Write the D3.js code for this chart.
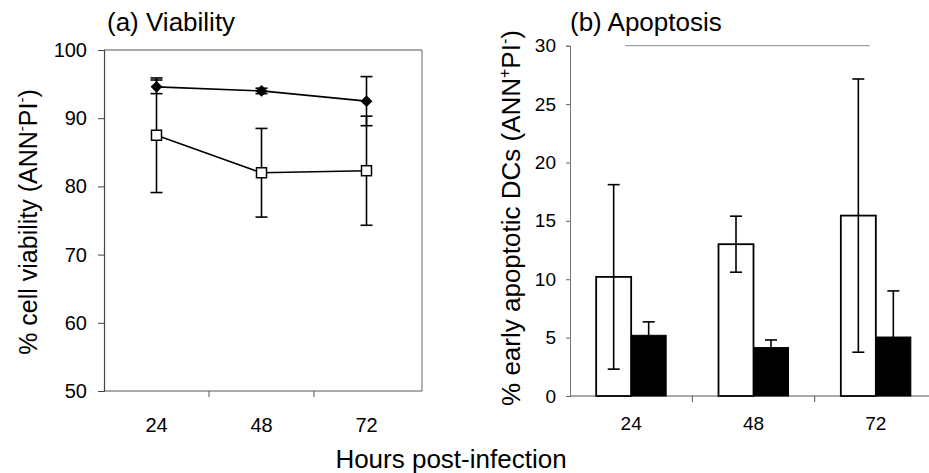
<!DOCTYPE html>
<html>
<head>
<meta charset="utf-8">
<script src="https://cdn.jsdelivr.net/npm/d3@7"></script>
<style>
  html, body { margin: 0; padding: 0; background: #fff; }
  svg { display: block; font-family: "Liberation Sans", Arial, sans-serif; }
</style>
</head>
<body>
<svg id="chart" width="929" height="473"></svg>
<script>
// Time points (hours post-infection)
const hours = ["24", "48", "72"];

// (a) Viability, % ANN-PI- cells
const viabOpen = [87.5, 82.0, 82.3];
const viabOpenErr = [8.4, 6.5, 8.0];
const viabFilled = [94.6, 94.0, 92.5];
const viabFilledErr = [1.0, 0.4, 3.6];
const viabTicks = [50, 60, 70, 80, 90, 100];

// (b) Early apoptosis, % ANN+PI- cells
const apopOpen = [10.2, 13.0, 15.45];
const apopOpenErr = [7.9, 2.4, 11.7];
const apopFilled = [5.2, 4.15, 5.05];
const apopFilledErr = [1.15, 0.65, 3.95];
const apopTicks = [0, 5, 10, 15, 20, 25, 30];

const svg = d3.select("#chart");
const ink = "#000";
const FONT = "Liberation Sans, Arial, sans-serif";

// ---------- Panel (a): line chart ----------
const ax = d3.scaleBand().domain(hours).range([104, 419]);
const ay = d3.scaleLinear().domain([50, 100]).range([391, 50]);
const ga = svg.append("g");

// frame (top and right)
ga.append("line").attr("x1", 104).attr("x2", 422).attr("y1", ay(100)).attr("y2", ay(100))
  .attr("stroke", "#555").attr("stroke-width", 1);
ga.append("line").attr("x1", 422).attr("x2", 422).attr("y1", ay(100)).attr("y2", ay(50))
  .attr("stroke", "#666").attr("stroke-width", 1);

// y axis
const yAxisA = d3.axisLeft(ay).tickValues(viabTicks).tickSize(6).tickPadding(11);
const gya = ga.append("g").attr("transform", "translate(104,0)").call(yAxisA);
gya.select(".domain").attr("stroke", "#444").attr("stroke-width", 1.2);
gya.selectAll(".tick line").attr("stroke", "#444");
gya.selectAll(".tick text").attr("font-size", 20).attr("fill", ink).attr("font-family", FONT);

// x axis (ticks between categories)
ga.append("line").attr("x1", 104).attr("x2", 422).attr("y1", ay(50)).attr("y2", ay(50))
  .attr("stroke", "#555").attr("stroke-width", 1);
ga.selectAll(".xtick").data(hours.slice(1)).enter().append("line")
  .attr("x1", d => ax(d)).attr("x2", d => ax(d))
  .attr("y1", ay(50)).attr("y2", ay(50) + 6).attr("stroke", "#555");
ga.selectAll(".xlab").data(hours).enter().append("text")
  .attr("x", d => ax(d) + ax.bandwidth() / 2).attr("y", 432)
  .attr("text-anchor", "middle").attr("font-size", 20).attr("fill", ink).text(d => d);

const cx = d => ax(d) + ax.bandwidth() / 2;

function errBars(g, vals, errs, cap) {
  g.selectAll(null).data(hours).enter().append("g").each(function (d, i) {
    const s = d3.select(this);
    const x = cx(d);
    s.append("line").attr("x1", x).attr("x2", x)
      .attr("y1", ay(vals[i] + errs[i])).attr("y2", ay(vals[i] - errs[i]))
      .attr("stroke", ink).attr("stroke-width", 1.6);
    [vals[i] + errs[i], vals[i] - errs[i]].forEach(v => {
      s.append("line").attr("x1", x - cap).attr("x2", x + cap)
        .attr("y1", ay(v)).attr("y2", ay(v)).attr("stroke", ink).attr("stroke-width", 1.6);
    });
  });
}
errBars(ga, viabOpen, viabOpenErr, 6);
errBars(ga, viabFilled, viabFilledErr, 6);

const lineA = d3.line().x((v, i) => cx(hours[i])).y(v => ay(v));
ga.append("path").datum(viabOpen).attr("d", lineA).attr("fill", "none")
  .attr("stroke", ink).attr("stroke-width", 1.6);
ga.append("path").datum(viabFilled).attr("d", lineA).attr("fill", "none")
  .attr("stroke", ink).attr("stroke-width", 1.6);

// open squares
ga.selectAll(".sq").data(viabOpen).enter().append("rect")
  .attr("x", (v, i) => cx(hours[i]) - 5).attr("y", v => ay(v) - 5)
  .attr("width", 10).attr("height", 10)
  .attr("fill", "#fff").attr("stroke", ink).attr("stroke-width", 1.5);
// filled diamonds
const diamond = d3.symbol().type(d3.symbolDiamond2).size(90);
ga.selectAll(".dm").data(viabFilled).enter().append("path")
  .attr("d", diamond)
  .attr("transform", (v, i) => `translate(${cx(hours[i])},${ay(v)})`)
  .attr("fill", ink);

// titles and labels
ga.append("text").attr("x", 107).attr("y", 31).attr("font-size", 26).attr("fill", ink)
  .text("(a) Viability");
const ylabA = ga.append("text").attr("transform", "translate(37,222) rotate(-90)")
  .attr("text-anchor", "middle").attr("font-size", 25).attr("fill", ink);
ylabA.append("tspan").text("% cell viability (ANN");
ylabA.append("tspan").attr("font-size", 15).attr("dy", -10).text("-");
ylabA.append("tspan").attr("dy", 10).text("PI");
ylabA.append("tspan").attr("font-size", 15).attr("dy", -10).text("-");
ylabA.append("tspan").attr("dy", 10).text(")");

// ---------- Panel (b): grouped bar chart ----------
const bx = d3.scaleBand().domain(hours).range([570, 937]);
const by = d3.scaleLinear().domain([0, 30]).range([396, 45.7]);
const sub = d3.scaleBand().domain(["open", "filled"]).range([0, 70]);
const gb = svg.append("g");

// faint top frame line
gb.append("line").attr("x1", bx("24") + bx.bandwidth() * 0.45).attr("x2", bx("72") + bx.bandwidth() * 0.45)
  .attr("y1", by(30)).attr("y2", by(30)).attr("stroke", "#888").attr("stroke-width", 1);

const yAxisB = d3.axisLeft(by).tickValues(apopTicks).tickSize(4).tickPadding(10);
const gyb = gb.append("g").attr("transform", "translate(570,0)").call(yAxisB);
gyb.select(".domain").attr("stroke", "#777").attr("stroke-width", 1);
gyb.selectAll(".tick line").attr("stroke", "#666");
gyb.selectAll(".tick text").attr("font-size", 19).attr("fill", ink).attr("font-family", FONT);

gb.append("line").attr("x1", 570).attr("x2", 929).attr("y1", by(0)).attr("y2", by(0))
  .attr("stroke", "#555").attr("stroke-width", 1);
gb.selectAll(".xtick").data(hours.slice(1)).enter().append("line")
  .attr("x1", d => bx(d)).attr("x2", d => bx(d))
  .attr("y1", by(0)).attr("y2", by(0) + 6).attr("stroke", "#555");
gb.selectAll(".xlab").data(hours).enter().append("text")
  .attr("x", d => bx(d) + bx.bandwidth() / 2).attr("y", 430)
  .attr("text-anchor", "middle").attr("font-size", 19).attr("fill", ink).text(d => d);

const gx = d => bx(d) + bx.bandwidth() / 2 - 35;

// open bars with two-sided error bars
hours.forEach((h, i) => {
  const x0 = gx(h) + sub("open");
  gb.append("rect").attr("x", x0).attr("y", by(apopOpen[i]))
    .attr("width", sub.bandwidth()).attr("height", by(0) - by(apopOpen[i]))
    .attr("fill", "#fff").attr("stroke", ink).attr("stroke-width", 1.8);
  const xm = x0 + sub.bandwidth() / 2;
  gb.append("line").attr("x1", xm).attr("x2", xm)
    .attr("y1", by(apopOpen[i] + apopOpenErr[i])).attr("y2", by(apopOpen[i] - apopOpenErr[i]))
    .attr("stroke", ink).attr("stroke-width", 1.6);
  [apopOpen[i] + apopOpenErr[i], apopOpen[i] - apopOpenErr[i]].forEach(v => {
    gb.append("line").attr("x1", xm - 6).attr("x2", xm + 6).attr("y1", by(v)).attr("y2", by(v))
      .attr("stroke", ink).attr("stroke-width", 1.6);
  });
});
// filled bars with upper error bars
hours.forEach((h, i) => {
  const x0 = gx(h) + sub("filled");
  const xm = x0 + sub.bandwidth() / 2;
  gb.append("line").attr("x1", xm).attr("x2", xm)
    .attr("y1", by(apopFilled[i] + apopFilledErr[i])).attr("y2", by(apopFilled[i]))
    .attr("stroke", ink).attr("stroke-width", 1.6);
  gb.append("line").attr("x1", xm - 6).attr("x2", xm + 6)
    .attr("y1", by(apopFilled[i] + apopFilledErr[i])).attr("y2", by(apopFilled[i] + apopFilledErr[i]))
    .attr("stroke", ink).attr("stroke-width", 1.6);
  gb.append("rect").attr("x", x0).attr("y", by(apopFilled[i]))
    .attr("width", sub.bandwidth()).attr("height", by(0) - by(apopFilled[i]))
    .attr("fill", ink).attr("stroke", ink).attr("stroke-width", 1);
});

gb.append("text").attr("x", 570).attr("y", 31).attr("font-size", 26).attr("fill", ink)
  .text("(b) Apoptosis");
const ylabB = gb.append("text").attr("transform", "translate(520,218) rotate(-90)")
  .attr("text-anchor", "middle").attr("font-size", 26).attr("fill", ink);
ylabB.append("tspan").text("% early apoptotic DCs (ANN");
ylabB.append("tspan").attr("font-size", 16).attr("dy", -10).text("+");
ylabB.append("tspan").attr("dy", 10).text("PI");
ylabB.append("tspan").attr("font-size", 16).attr("dy", -10).text("-");
ylabB.append("tspan").attr("dy", 10).text(")");

// shared x-axis title
svg.append("text").attr("x", 451).attr("y", 468).attr("text-anchor", "middle")
  .attr("font-size", 26).attr("fill", ink).text("Hours post-infection");
</script>
</body>
</html>
